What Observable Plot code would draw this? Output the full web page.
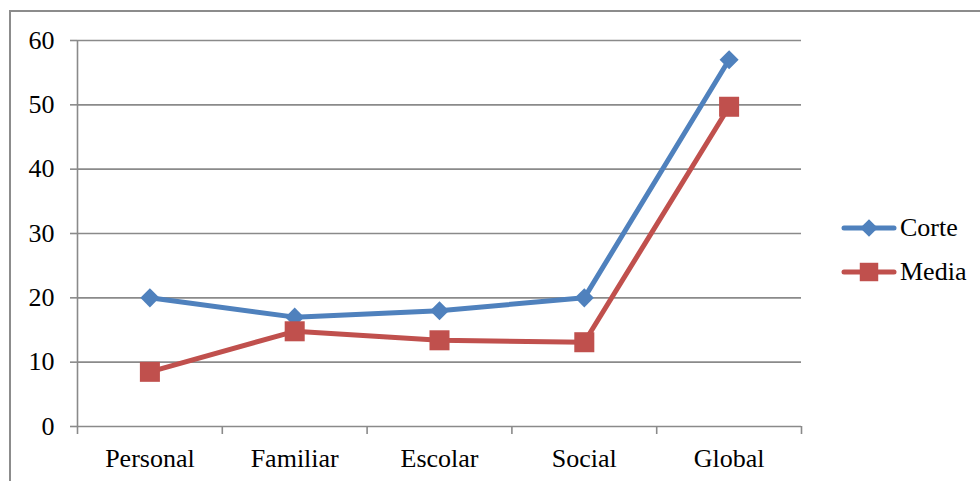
<!DOCTYPE html>
<html>
<head>
<meta charset="utf-8">
<script src="https://cdn.jsdelivr.net/npm/d3@7"></script>
<script src="https://cdn.jsdelivr.net/npm/@observablehq/plot@0.6"></script>
<style>
  @font-face { font-family: 'ChartSerif'; src: local('Liberation Serif'), local('LiberationSerif'), local('Liberation Serif Regular'), local('LiberationSerif-Regular'), local('Tinos'), local('Times New Roman'); }
  html, body { margin: 0; padding: 0; background: #fff; overflow: hidden; }
  #wrap { position: relative; width: 980px; height: 481px; }
  #chart { position: absolute; left: 0; top: 0; }
  #frame { position: absolute; left: 9px; top: 10px; width: 1000px; height: 500px; border-top: 2px solid #8c8c8c; border-left: 2px solid #8c8c8c; pointer-events: none; }
  #legend { position: absolute; left: 841px; top: 206px; font-size: 26px; color: #000; }
  .item { display: flex; align-items: center; height: 44px; }
  .item svg { display: block; margin-right: 3px; }
</style>
</head>
<body style="font-family:'Liberation Serif', ChartSerif, serif">
<div id="wrap">
  <div id="chart"></div>
  <div id="frame"></div>
  <div id="legend" style="font-family:'Liberation Serif', ChartSerif, serif"></div>
</div>
<script>
const categories = ["Personal", "Familiar", "Escolar", "Social", "Global"];
const corte = [20, 17, 18, 20, 57];
const media = [8.5, 14.8, 13.4, 13.1, 49.7];
const yTicks = [0, 10, 20, 30, 40, 50, 60];
const seriesNames = ["Corte", "Media"];
const seriesColors = ["#4F81BD", "#C0504D"];

const rows = [];
categories.forEach((c, i) => {
  rows.push({series: "Corte", i, value: corte[i]});
  rows.push({series: "Media", i, value: media[i]});
});
const corteRows = rows.filter(d => d.series === "Corte");
const mediaRows = rows.filter(d => d.series === "Media");
const centers = categories.map((c, i) => i);
const bounds = d3.range(categories.length + 1).map(i => i - 0.5);
const grid = "#8a8a8a";
const FONT = "'Liberation Serif', ChartSerif, serif";

const plot = Plot.plot({
  width: 980,
  height: 481,
  marginLeft: 77,
  marginRight: 179,
  marginTop: 40,
  marginBottom: 55,
  style: {fontFamily: FONT, fontSize: "26px", color: "#000", background: "transparent"},
  x: {type: "linear", domain: [-0.5, categories.length - 0.5]},
  y: {domain: [0, 60]},
  marks: [
    Plot.ruleY(yTicks, {stroke: grid, strokeWidth: 1.6}),
    Plot.ruleX([-0.5], {stroke: grid, strokeWidth: 1.6}),
    Plot.axisY({ticks: yTicks, tickSize: 7, tickPadding: 16, stroke: grid, strokeWidth: 1.6, fill: "#000", label: null, fontSize: 26}),
    Plot.axisX({ticks: bounds, tickSize: 8, tickFormat: () => "", stroke: grid, strokeWidth: 1.6, label: null}),
    Plot.axisX({ticks: centers, tickSize: 0, tickPadding: 22, tickFormat: i => categories[i], fill: "#000", label: null, fontSize: 26}),
    Plot.line(corteRows, {x: "i", y: "value", stroke: seriesColors[0], strokeWidth: 5, strokeLinejoin: "round", strokeLinecap: "round"}),
    Plot.line(mediaRows, {x: "i", y: "value", stroke: seriesColors[1], strokeWidth: 5, strokeLinejoin: "round", strokeLinecap: "round"}),
    Plot.dot(corteRows, {x: "i", y: "value", symbol: "diamond2", r: 8.6, fill: seriesColors[0], stroke: "none"}),
    Plot.dot(mediaRows, {x: "i", y: "value", symbol: "square", r: 11.3, fill: seriesColors[1], stroke: "none"})
  ]
});
document.getElementById("chart").appendChild(plot);
plot.style.setProperty("font-family", FONT, "important");
plot.querySelectorAll("text, tspan").forEach(el => {
  el.setAttribute("font-family", FONT);
  el.style.setProperty("font-family", FONT, "important");
});

// Legend
const legend = d3.select("#legend");
seriesNames.forEach((name, k) => {
  const item = legend.append("div").attr("class", "item");
  const svg = item.append("svg").attr("width", 56).attr("height", 24);
  svg.append("line").attr("x1", 3).attr("x2", 53).attr("y1", 12).attr("y2", 12)
    .attr("stroke", seriesColors[k]).attr("stroke-width", 5).attr("stroke-linecap", "round");
  const sym = k === 0 ? d3.symbolDiamond2 : d3.symbolSquare;
  const size = k === 0 ? Math.PI * 8.6 * 8.6 * 0.85 : Math.PI * 11.3 * 11.3 * 0.85;
  svg.append("path").attr("d", d3.symbol(sym, size)()).attr("transform", "translate(28,12)")
    .attr("fill", seriesColors[k]);
  item.append("span").text(name).node().style.setProperty("font-family", FONT, "important");
});
</script>
</body>
</html>
